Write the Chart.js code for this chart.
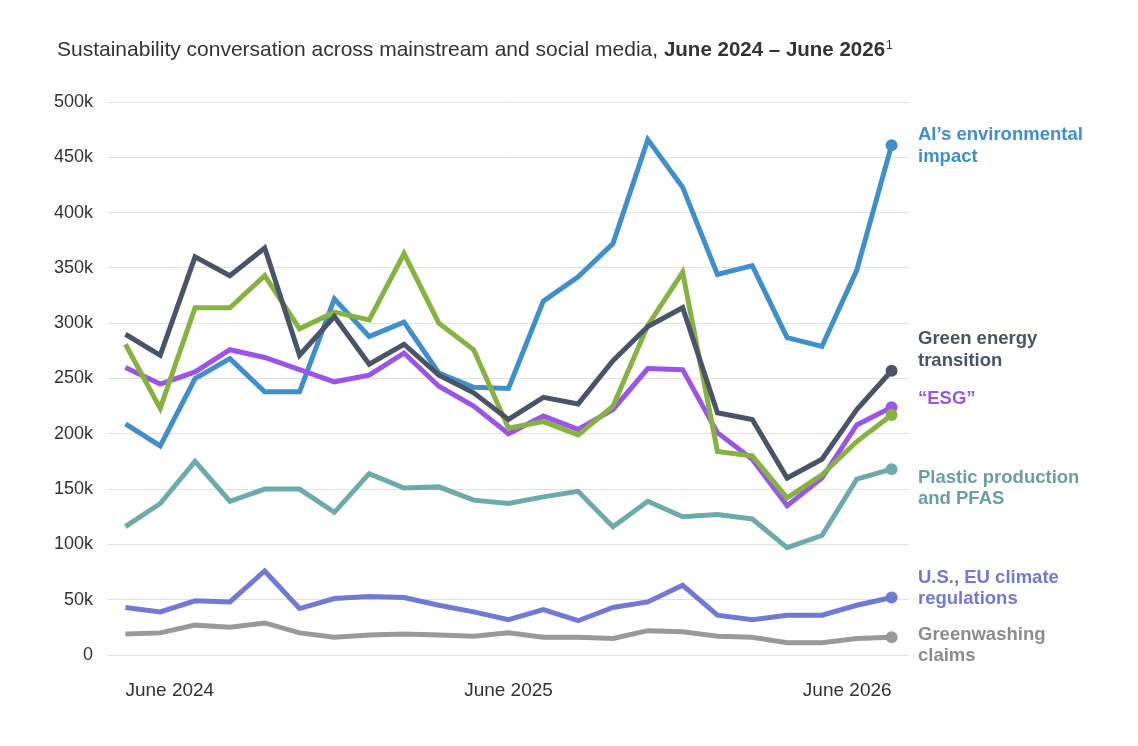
<!DOCTYPE html>
<html>
<head>
<meta charset="utf-8">
<script src="https://cdn.jsdelivr.net/npm/chart.js@4"></script>
<style>
  html, body { margin: 0; padding: 0; background: #fff; }
  #wrap { width: 1138px; height: 746px; position: relative; }
</style>
</head>
<body>
<div id="wrap"><canvas id="grafico"></canvas></div>
<script>
        // Datos (miles de menciones)
        const categories = ['June 2024', '', '', '', '', '', '', '', '', '', '', 'June 2025',
            '', '', '', '', '', '', '', '', '', '', 'June 2026'];
        const yTicks = [0, 50000, 100000, 150000, 200000, 250000, 300000, 350000, 400000, 450000, 500000];

        const aiImpact = [209, 189, 250, 268, 238, 238, 322, 288, 301, 255, 242, 241,
            320, 342, 372, 466, 423, 344, 352, 287, 279, 348, 461];
        const greenEnergy = [290, 271, 360, 343, 368, 271, 306, 263, 281, 253, 237, 213,
            233, 227, 266, 297, 314, 219, 213, 160, 177, 222, 257];
        const greenLine = [281, 223, 314, 314, 343, 295, 310, 303, 363, 300, 276, 205,
            211, 199, 225, 298, 346, 184, 180, 142, 163, 193, 217];
        const esg = [260, 245, 256, 276, 269, 258, 247, 253, 273, 243, 225, 200,
            216, 204, 222, 259, 258, 201, 177, 135, 160, 208, 224];
        const plastic = [116, 137, 175, 139, 150, 150, 129, 164, 151, 152, 140, 137,
            143, 148, 116, 139, 125, 127, 123, 97, 108, 159, 168];
        const usEuRegs = [43, 39, 49, 48, 76, 42, 51, 53, 52, 45, 39, 32,
            41, 31, 43, 48, 63, 36, 32, 36, 36, 45, 52];
        const greenwashing = [19, 20, 27, 25, 29, 20, 16, 18, 19, 18, 17, 20,
            16, 16, 15, 22, 21, 17, 16, 11, 11, 15, 16];

        const toK = arr => arr.map(v => v * 1000);
        const lastIdx = categories.length - 1;

        // Etiquetas a la derecha (desplazamiento en px respecto al ultimo punto)
        const seriesLabels = [
            { set: 6, lines: ['AI\u2019s environmental', 'impact'], color: '#3f8fcc', dy: 1 },
            { set: 3, lines: ['Green energy', 'transition'], color: '#4a5469', dy: -21 },
            { set: 5, lines: ['\u201cESG\u201d'], color: '#9b55e6', dy: -8 },
            { set: 2, lines: ['Plastic production', 'and PFAS'], color: '#6a9fa0', dy: 19 },
            { set: 1, lines: ['U.S., EU climate', 'regulations'], color: '#7179d2', dy: -9 },
            { set: 0, lines: ['Greenwashing', 'claims'], color: '#8c8c8c', dy: 8 }
        ];

        function serie(data, color) {
            return {
                data: toK(data),
                borderColor: color,
                backgroundColor: color,
                borderWidth: 5,
                tension: 0,
                fill: false,
                pointRadius: c => c.dataIndex === lastIdx ? 6 : 0,
                pointHoverRadius: 0,
                pointBorderWidth: 0
            };
        }

        const chartData = {
            labels: categories,
            datasets: [
                serie(greenwashing, '#999999'),
                serie(usEuRegs, '#7179d2'),
                serie(plastic, '#6dabaa'),
                serie(greenEnergy, '#4a5469'),
                serie(greenLine, '#86b340'),
                serie(esg, '#9b55e6'),
                serie(aiImpact, '#3f8fcc')
            ]
        };

        // Titulo con parte en negrita
        const titlePlugin = {
            id: 'titulo',
            afterDraw(chart) {
                const ctx = chart.ctx;
                ctx.save();
                ctx.textBaseline = 'alphabetic';
                ctx.fillStyle = '#333333';
                let x = 57;
                const y = 56;
                ctx.font = '21px "Liberation Sans", Arial, sans-serif';
                const a = 'Sustainability conversation across mainstream and social media, ';
                ctx.fillText(a, x, y);
                x += ctx.measureText(a).width;
                ctx.font = 'bold 20.5px "Liberation Sans", Arial, sans-serif';
                const b = 'June 2024 \u2013 June 2026';
                ctx.fillText(b, x, y);
                x += ctx.measureText(b).width + 1;
                ctx.font = '12px "Liberation Sans", Arial, sans-serif';
                ctx.fillText('1', x, y - 7);
                ctx.restore();
            }
        };

        const labelPlugin = {
            id: 'etiquetas',
            afterDraw(chart) {
                const ctx = chart.ctx;
                const yScale = chart.scales.y;
                ctx.save();
                ctx.font = 'bold 18.5px "Liberation Sans", Arial, sans-serif';
                ctx.textBaseline = 'middle';
                ctx.textAlign = 'left';
                const lineH = 21.5;
                seriesLabels.forEach(l => {
                    const v = chart.data.datasets[l.set].data[lastIdx];
                    const cy = yScale.getPixelForValue(v) + l.dy;
                    const top = cy - (l.lines.length - 1) * lineH / 2;
                    ctx.fillStyle = l.color;
                    l.lines.forEach((t, i) => ctx.fillText(t, 918, top + i * lineH));
                });
                ctx.restore();
            }
        };

        const chartOptions = {
            responsive: true,
            maintainAspectRatio: false,
            animation: false,
            layout: { padding: { top: 102, right: 229, bottom: 45, left: 0 } },
            plugins: { legend: { display: false }, tooltip: { enabled: false }, title: { display: false } },
            scales: {
                x: {
                    offset: true,
                    afterFit(scale) { scale.height = 46; },
                    grid: { display: false, drawTicks: false },
                    border: { display: false },
                    ticks: {
                        autoSkip: false,
                        maxRotation: 0,
                        padding: 24,
                        align: 'inner',
                        color: '#333333',
                        font: { family: '"Liberation Sans", Arial, sans-serif', size: 19 }
                    }
                },
                y: {
                    min: 0,
                    max: 500000,
                    afterFit(scale) { scale.width = 108; },
                    afterBuildTicks(scale) { scale.ticks = yTicks.map(v => ({ value: v })); },
                    grid: { color: '#e0e0e0', lineWidth: 1, drawTicks: false },
                    border: { display: false },
                    ticks: {
                        padding: 15,
                        color: '#333333',
                        font: { family: '"Liberation Sans", Arial, sans-serif', size: 18 },
                        callback: v => v === 0 ? '0' : (v / 1000) + 'k'
                    }
                }
            }
        };

        const canvas = document.getElementById('grafico');
        const ctx = canvas.getContext('2d');
        const chart = new Chart(ctx, {
            type: 'line',
            data: chartData,
            options: chartOptions,
            plugins: [titlePlugin, labelPlugin]
        });
</script>
</body>
</html>
